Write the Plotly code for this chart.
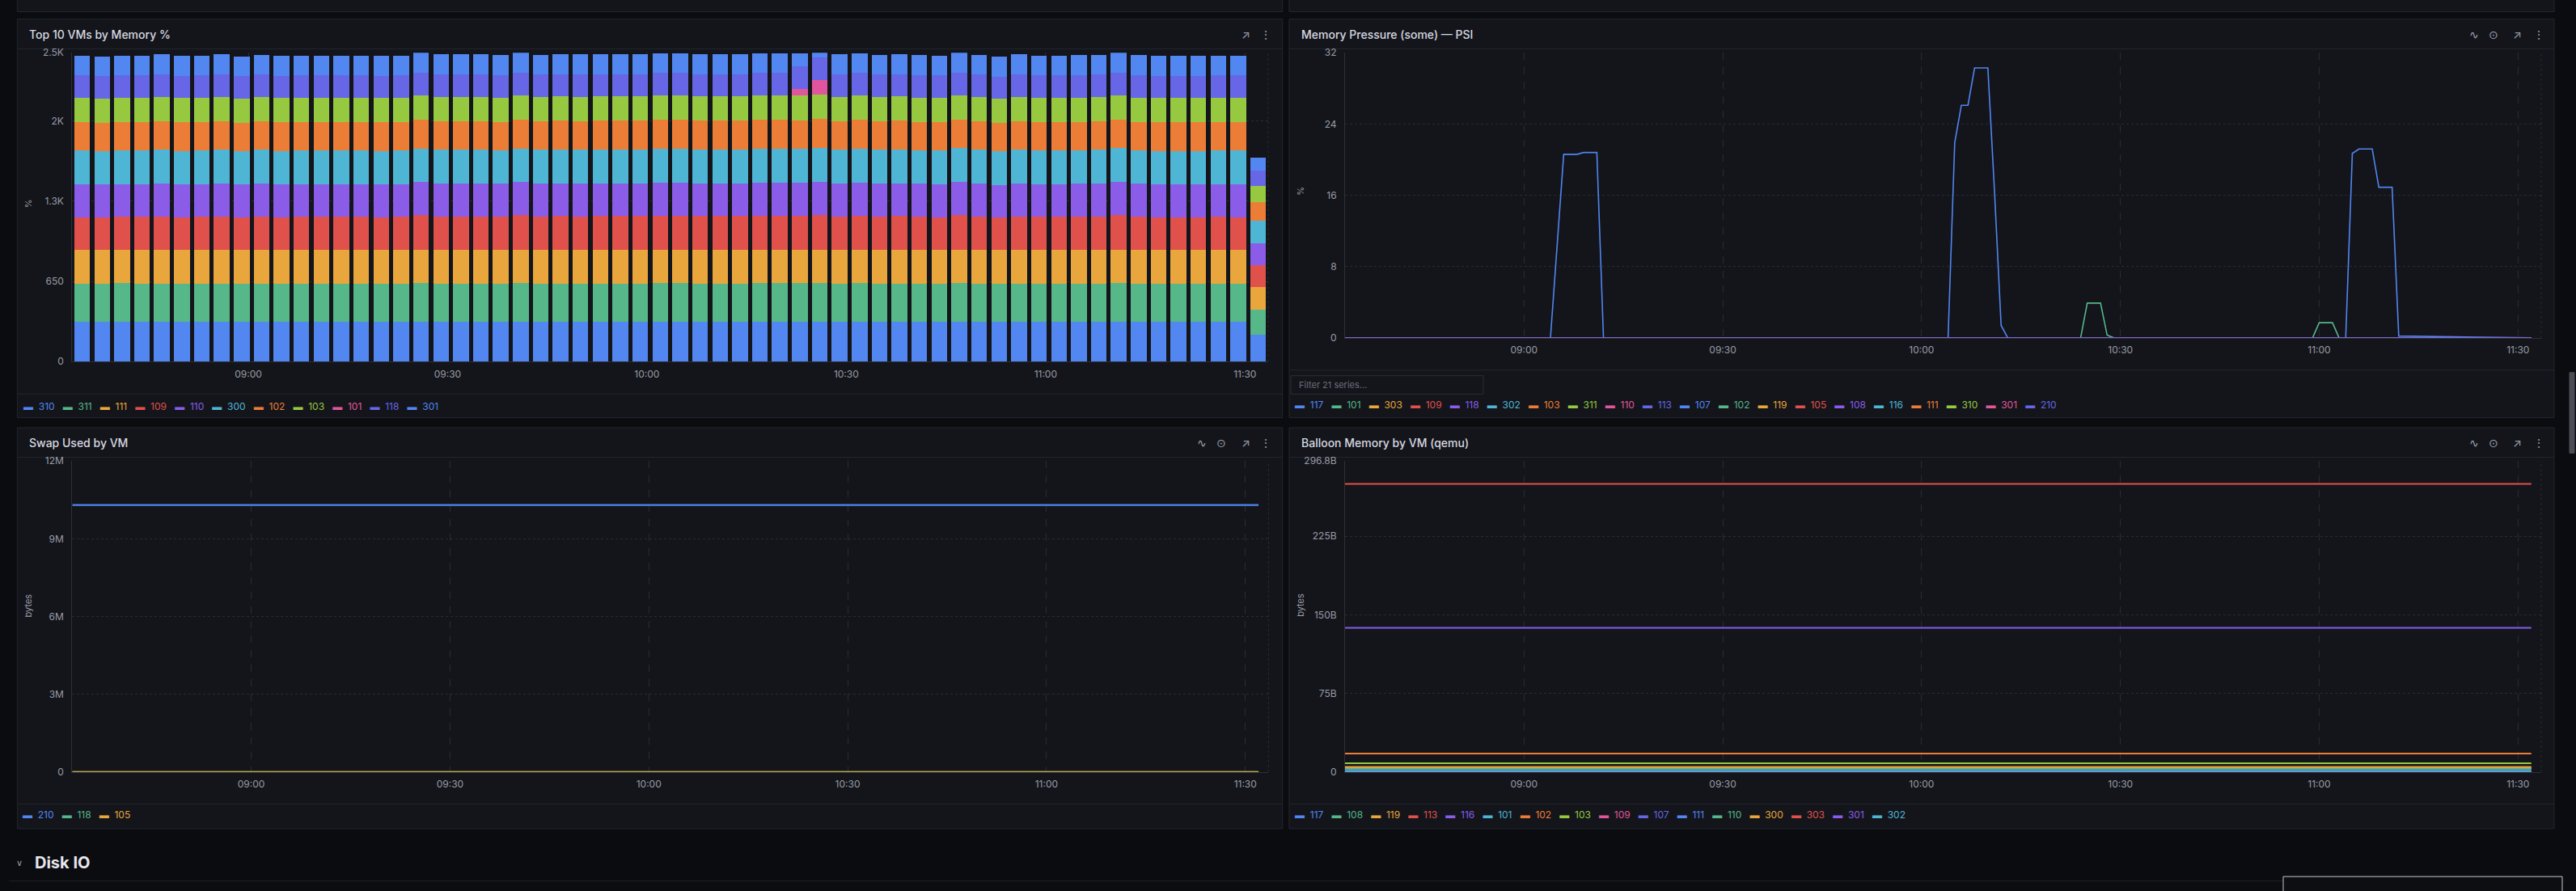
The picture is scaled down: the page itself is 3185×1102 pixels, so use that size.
import pandas as pd
import plotly.graph_objects as go

W, H = 3185, 1102
DAY = "2025-01-01 "

# grafana-ish palette, assigned in legend order
PALETTE = ["#5286F0", "#56B789", "#E9A63C", "#E0514C", "#8A5CE8",
           "#4FB5D4", "#EC7D37", "#97C940", "#E0559D", "#6666E6"]

PAGE_BG = "#0b0c10"
PANEL_BG = "#13151b"
BORDER = "#24272e"
GRID = "rgba(204,204,220,0.12)"
TICK = "#9a9ca6"
FONT = "Inter, Noto Sans, sans-serif"

# ---------------- Top 10 VMs by Memory % (stacked bars, 3 min steps) ----------------
bar_times = pd.date_range(DAY + "08:35", DAY + "11:32", freq="3min")
bar_names = ["310", "311", "111", "109", "110", "300", "102", "103", "101", "118", "301"]

vm310 = [324, 324, 324, 324, 324, 324, 324, 324, 324, 324,
         324, 324, 324, 324, 324, 324, 324, 325, 324, 324,
         324, 324, 325, 324, 324, 324, 324, 324, 324, 325,
         325, 324, 324, 324, 325, 325, 325, 325, 324, 325,
         324, 324, 324, 324, 325, 324, 324, 324, 324, 324,
         324, 324, 325, 324, 324, 324, 324, 324, 324, 215]
vm311 = [309, 309, 310, 309, 309, 309, 309, 309, 309, 309,
         309, 309, 309, 309, 309, 309, 309, 310, 309, 309,
         309, 309, 310, 309, 309, 309, 309, 309, 309, 309,
         310, 309, 309, 309, 309, 309, 309, 310, 309, 309,
         309, 309, 309, 309, 310, 309, 309, 309, 309, 309,
         309, 309, 310, 309, 309, 309, 309, 309, 309, 204]
vm111 = [272, 272, 272, 272, 273, 272, 272, 272, 272, 272,
         272, 272, 272, 272, 272, 272, 272, 273, 272, 272,
         272, 272, 273, 272, 272, 272, 272, 272, 272, 273,
         272, 272, 272, 272, 273, 272, 273, 273, 272, 272,
         272, 272, 272, 272, 273, 272, 271, 272, 272, 272,
         272, 272, 273, 272, 272, 272, 272, 272, 272, 184]
vm109 = [266, 264, 267, 267, 270, 265, 267, 271, 264, 270,
         265, 267, 267, 267, 267, 265, 267, 277, 271, 271,
         271, 268, 277, 270, 273, 271, 273, 273, 273, 275,
         275, 273, 273, 273, 275, 275, 275, 279, 271, 275,
         270, 273, 268, 266, 277, 270, 263, 271, 267, 267,
         268, 270, 277, 268, 265, 265, 265, 267, 266, 180]
vm110 = [266, 265, 266, 266, 267, 266, 266, 268, 265, 267,
         266, 266, 266, 266, 266, 266, 266, 269, 268, 268,
         268, 267, 269, 267, 268, 268, 268, 268, 268, 269,
         269, 268, 268, 268, 269, 269, 269, 271, 268, 269,
         267, 268, 267, 266, 270, 267, 265, 268, 266, 266,
         267, 267, 270, 267, 266, 266, 266, 266, 266, 174]
vm300 = [272, 271, 272, 272, 273, 272, 272, 273, 271, 273,
         272, 272, 272, 272, 272, 272, 272, 274, 273, 273,
         273, 272, 274, 273, 273, 273, 273, 273, 273, 274,
         274, 273, 273, 273, 274, 274, 274, 275, 273, 274,
         273, 273, 272, 272, 274, 273, 271, 273, 272, 272,
         272, 273, 274, 272, 272, 272, 272, 272, 272, 182]
vm102 = [232, 231, 232, 232, 233, 232, 232, 233, 231, 233,
         232, 232, 232, 232, 232, 232, 232, 234, 233, 233,
         233, 232, 234, 233, 233, 233, 233, 233, 233, 234,
         234, 233, 233, 233, 234, 234, 232, 234, 233, 234,
         233, 233, 232, 232, 234, 233, 231, 233, 232, 232,
         232, 233, 234, 232, 232, 232, 232, 232, 232, 154]
vm103 = [195, 194, 195, 195, 196, 195, 195, 196, 194, 196,
         195, 195, 195, 195, 195, 195, 195, 196, 196, 196,
         196, 195, 196, 196, 196, 196, 196, 196, 196, 197,
         197, 196, 196, 196, 197, 197, 199, 197, 196, 197,
         196, 196, 195, 195, 196, 196, 194, 196, 195, 195,
         195, 196, 196, 195, 195, 195, 195, 195, 195, 129]
vm101 = [None, None, None, None, None, None, None, None, None, None,
         None, None, None, None, None, None, None, None, None, None,
         None, None, None, None, None, None, None, None, None, None,
         None, None, None, None, None, None, 54, 118, None, None,
         None, None, None, None, None, None, None, None, None, None,
         None, None, None, None, None, None, None, None, None, None]
vm118 = [182, 182, 182, 182, 182, 182, 182, 183, 182, 182,
         182, 182, 182, 182, 182, 182, 182, 183, 182, 182,
         182, 182, 183, 182, 182, 182, 182, 182, 182, 183,
         183, 182, 182, 182, 183, 183, 182, 182, 182, 183,
         182, 182, 182, 182, 183, 182, 181, 182, 182, 182,
         182, 182, 183, 182, 182, 182, 182, 182, 182, 124]
vm301 = [161, 160, 161, 161, 162, 161, 161, 162, 160, 162,
         161, 161, 161, 161, 161, 161, 161, 162, 162, 162,
         162, 161, 162, 162, 162, 162, 162, 162, 162, 162,
         162, 162, 162, 162, 162, 162, 107, 56, 162, 162,
         162, 162, 161, 161, 162, 162, 160, 162, 161, 161,
         161, 162, 162, 161, 161, 161, 161, 161, 161, 107]
bar_values = [vm310, vm311, vm111, vm109, vm110, vm300, vm102, vm103, vm101, vm118, vm301]

# ---------------- Memory Pressure (some) - PSI ----------------
psi_names = ["117", "101", "303", "109", "118", "302", "103", "311", "110", "113",
             "107", "102", "119", "105", "108", "116", "111", "310", "301", "210"]
psi117_t = ["08:33", "09:04", "09:06", "09:08", "09:09", "09:11", "09:12",
            "10:04", "10:05", "10:06", "10:07", "10:08", "10:10", "10:11", "10:12", "10:13",
            "11:04", "11:05", "11:06", "11:08", "11:09", "11:11", "11:12", "11:32"]
psi117_v = [0, 0, 20.6, 20.6, 20.8, 20.8, 0,
            0, 21.9, 26.1, 26.1, 30.3, 30.3, 16.5, 1.4, 0,
            0, 20.7, 21.2, 21.2, 16.9, 16.9, 0.2, 0]
psi101_t = ["08:33", "10:24", "10:25", "10:27", "10:28", "10:29",
            "10:59", "11:00", "11:02", "11:03", "11:32"]
psi101_v = [0, 0, 3.9, 3.9, 0.3, 0, 0, 1.7, 1.7, 0, 0]
psi_idle_t = ["08:33", "11:32"]
psi_idle_v = [0, 0]

# ---------------- Swap Used by VM ----------------
swap_names = ["210", "118", "105"]
swap_t = ["08:33", "11:32"]
swap210 = [10.3e6, 10.3e6]
swap118 = [0, 0]
swap105 = [0, 0]

# ---------------- Balloon Memory by VM (qemu) ----------------
balloon_names = ["117", "108", "119", "113", "116", "101", "102", "103",
                 "109", "107", "111", "110", "300", "303", "301", "302"]
balloon_t = ["08:33", "11:32"]
balloon_bytes = [0.9e9, 3.2e9, 4.7e9, 0.9e9, 0.9e9, 0.9e9, 17.7e9, 8.3e9,
                 3.2e9, 0.9e9, 3.2e9, 3.2e9, 4.7e9, 274.9e9, 137.6e9, 0.9e9]


def px(x):
    return x / W


def py(y):
    return 1 - y / H


def t(hm):
    return DAY + hm


fig = go.Figure()

for i, (name, vals) in enumerate(zip(bar_names, bar_values)):
    fig.add_trace(go.Bar(x=bar_times, y=vals, name=name, width=142000,
                         marker=dict(color=PALETTE[i % 10], line=dict(width=0)),
                         xaxis="x", yaxis="y", showlegend=False))

for i, name in enumerate(psi_names):
    if name == "117":
        xs, ys = psi117_t, psi117_v
    elif name == "101":
        xs, ys = psi101_t, psi101_v
    else:
        xs, ys = psi_idle_t, psi_idle_v
    fig.add_trace(go.Scatter(x=[t(v) for v in xs], y=ys, name=name, mode="lines",
                             line=dict(color=PALETTE[i % 10], width=1.6),
                             xaxis="x2", yaxis="y2", showlegend=False))

for i, (name, vals) in enumerate(zip(swap_names, [swap210, swap118, swap105])):
    fig.add_trace(go.Scatter(x=[t(v) for v in swap_t], y=vals, name=name, mode="lines",
                             line=dict(color=PALETTE[i % 10], width=2.4),
                             xaxis="x3", yaxis="y3", showlegend=False))

for i, (name, val) in enumerate(zip(balloon_names, balloon_bytes)):
    fig.add_trace(go.Scatter(x=[t(v) for v in balloon_t], y=[val, val], name=name, mode="lines",
                             line=dict(color=PALETTE[i % 10], width=2),
                             xaxis="x4", yaxis="y4", showlegend=False))

xbase = dict(type="date", tickformat="%H:%M", dtick=1800000, tick0=t("09:00"),
             showgrid=True, gridcolor=GRID, griddash="dash", gridwidth=1,
             zeroline=False, showline=True, linecolor="rgba(204,204,220,0.15)",
             ticks="", ticklabelstandoff=4, tickfont=dict(family=FONT, size=12, color=TICK))
ybase = dict(showgrid=True, gridcolor=GRID, griddash="dot", gridwidth=1,
             zeroline=False, showline=True, linecolor="rgba(204,204,220,0.15)",
             ticks="", ticklabelstandoff=7, tickfont=dict(family=FONT, size=12, color=TICK))

line_range = [t("08:33:00"), t("11:33:30")]

fig.update_layout(
    width=W, height=H, autosize=False,
    margin=dict(l=0, r=0, t=0, b=0),
    paper_bgcolor=PAGE_BG, plot_bgcolor="rgba(0,0,0,0)",
    barmode="stack", showlegend=False,
    font=dict(family=FONT, color=TICK),
    xaxis=dict(xbase, domain=[px(89.3), px(1568)], anchor="y",
               range=[t("08:33:30"), t("11:33:30")]),
    yaxis=dict(ybase, domain=[py(445.3), py(58)], anchor="x", range=[0, 2503],
               tickvals=[0, 650, 1300, 1950, 2503], ticktext=["0", "650", "1.3K", "2K", "2.5K"]),
    xaxis2=dict(xbase, domain=[px(1663), px(3142)], anchor="y2", range=line_range),
    yaxis2=dict(ybase, domain=[py(415.5), py(58)], anchor="x2", range=[0, 32],
                tickvals=[0, 8, 16, 24, 32]),
    xaxis3=dict(xbase, domain=[px(89.3), px(1568.4)], anchor="y3", range=line_range),
    yaxis3=dict(ybase, domain=[py(959.9), py(569.9)], anchor="x3", range=[0, 12e6],
                tickvals=[0, 3e6, 6e6, 9e6, 12e6], ticktext=["0", "3M", "6M", "9M", "12M"]),
    xaxis4=dict(xbase, domain=[px(1663), px(3142)], anchor="y4", range=line_range),
    yaxis4=dict(ybase, domain=[py(959.9), py(569.9)], anchor="x4", range=[0, 296.8e9],
                tickvals=[0, 75e9, 150e9, 225e9, 296.8e9],
                ticktext=["0", "75B", "150B", "225B", "296.8B"]),
)

shapes = []
annotations = []


def rect(x0, y0, x1, y1, fill, line=BORDER, width=1):
    shapes.append(dict(type="rect", xref="paper", yref="paper", layer="below",
                       x0=px(x0), x1=px(x1), y0=py(y1), y1=py(y0),
                       fillcolor=fill, line=dict(color=line, width=width)))


def hline(x0, x1, y, color=BORDER):
    shapes.append(dict(type="line", xref="paper", yref="paper", layer="below",
                       x0=px(x0), x1=px(x1), y0=py(y), y1=py(y),
                       line=dict(color=color, width=1)))


def text(x, y, s, size=12, color=TICK, anchor="left", angle=0, weight=None):
    annotations.append(dict(xref="paper", yref="paper", x=px(x), y=py(y), text=s,
                            showarrow=False, xanchor=anchor, yanchor="middle", textangle=angle,
                            font=dict(family=FONT, size=size, color=color, weight=weight)))


def legend(x, y, names):
    parts = []
    for i, n in enumerate(names):
        parts.append("<span style='color:%s'>\u25ac\u00a0\u00a0%s</span>" % (PALETTE[i % 10], n))
    text(x, y, "\u00a0\u00a0\u00a0".join(parts), size=12)


# panels from the row above (only bottoms visible)
rect(21.4, -20, 1585.7, 6.6, PANEL_BG)
rect(1594, -20, 3158, 6.6, PANEL_BG)

# four panels
panels = [
    (21.4, 15.9, 1585.7, 515.6, 53, 485.8),
    (1594, 15.9, 3158, 515.6, 53, 456),
    (21.4, 528.2, 1585.7, 1031, 565.3, 1000),
    (1594, 528.2, 3158, 1031, 565.3, 1000),
]
for x0, y0, x1, y1, head, foot in panels:
    rect(x0, y0, x1, y1, PANEL_BG)
    hline(x0, x1, head)
    hline(x0, x1, foot)

# dotted right edge of each plot area
for ax in ["x", "x2", "x3", "x4"]:
    yax = "y" + ax[1:]
    shapes.append(dict(type="line", xref=ax + " domain", yref=yax + " domain",
                       x0=1, x1=1, y0=0, y1=1, line=dict(color=GRID, width=1, dash="dot")))

# panel titles
TITLE = "#d8d9e0"
text(34, 34.8, "Top 10 VMs by Memory %", size=14, color=TITLE, weight=500)
text(1607, 34.8, "Memory Pressure (some) \u2014 PSI", size=14, color=TITLE, weight=500)
text(34, 547, "Swap Used by VM", size=14, color=TITLE, weight=500)
text(1607, 547, "Balloon Memory by VM (qemu)", size=14, color=TITLE, weight=500)

# header icons
ICON = "#9a9ca6"
for x, s in [(1540, "\u2197"), (1565, "\u22ee")]:
    text(x, 34.8, s, size=14, color=ICON, anchor="center")
for yy in [34.8, 547]:
    for x, s in [(3059, "\u223f"), (3083, "\u2299"), (3112.5, "\u2197"), (3139, "\u22ee")]:
        text(x, yy, s, size=14, color=ICON, anchor="center")
for x, s in [(1486, "\u223f"), (1510, "\u2299"), (1540, "\u2197"), (1565, "\u22ee")]:
    text(x, 547, s, size=14, color=ICON, anchor="center")

# axis titles
text(34.7, 247, "%", size=11, anchor="center", angle=-90)
text(1608, 232, "%", size=11, anchor="center", angle=-90)
text(34.7, 751, "bytes", size=11, anchor="center", angle=-90)
text(1608, 751, "bytes", size=11, anchor="center", angle=-90)

# legends
legend(26.8, 501.7, bar_names)
legend(1599, 499, psi_names)
legend(25.5, 1013.5, swap_names)
legend(1599, 1013.5, balloon_names)

# filter box of the PSI legend
rect(1596, 463, 1834, 486, PANEL_BG, line="#2c2f37")
text(1604, 474.5, "Filter 21 series...", size=11, color="#6b6e78")

# next dashboard row
text(24, 1073.8, "\u2228", size=11, color="#9a9ca6", anchor="center")
text(40.8, 1073.8, "Disk IO", size=20, color="#e6e7ec", weight=700)
hline(11, 3170, 1096.5, color="#1e2026")

# scrollbar thumb and the little box in the corner
rect(3177, 459, 3183, 560, "#4a4d55", line="#4a4d55")
rect(2823, 1091, 3168, 1110, "#0d0e12", line="#c8c9cc")

fig.update_layout(shapes=shapes, annotations=annotations)

fig.write_html("out.html", config={"displayModeBar": False},
               post_script="document.body.style.margin='0';document.body.style.overflow='hidden';")
